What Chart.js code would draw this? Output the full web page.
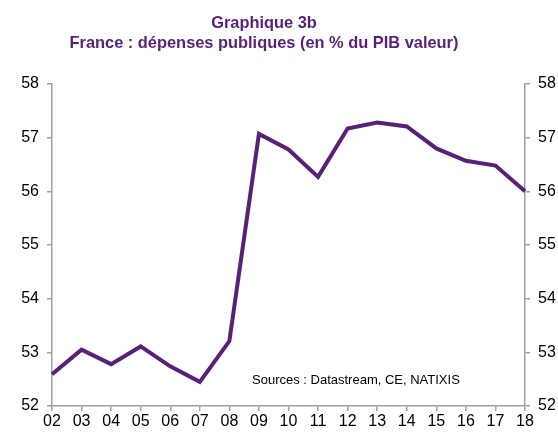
<!DOCTYPE html>
<html>
<head>
<meta charset="utf-8">
<script src="https://cdn.jsdelivr.net/npm/chart.js@4"></script>
<style>
  html, body { margin: 0; padding: 0; background: #fff; overflow: hidden; }
  #wrap { width: 575px; height: 432px; }
</style>
</head>
<body>
<div id="wrap"><canvas id="chart"></canvas></div>
<script>
const years = ['02', '03', '04', '05', '06', '07', '08', '09', '10', '11', '12', '13', '14', '15', '16', '17', '18'];
const depenses = [52.59, 53.05, 52.78, 53.11, 52.74, 52.45, 53.21, 57.07, 56.78, 56.27, 57.17, 57.28, 57.21, 56.80, 56.57, 56.48, 56.00];
const yTicks = [52, 53, 54, 55, 56, 57, 58];
const titleLines = ['Graphique 3b', 'France : dépenses publiques (en % du PIB valeur)'];
const sourceText = 'Sources : Datastream, CE, NATIXIS';

const purple = '#5a1f78';
const axisGray = '#a0a0a0';
const fontFamily = '"Liberation Sans", Arial, sans-serif';

// titre et source dessinés à la main pour coller à la mise en page d'origine
const annotations = {
    id: 'annotations',
    afterDraw(chart) {
        const ctx = chart.ctx;
        ctx.save();
        ctx.textBaseline = 'middle';
        ctx.textAlign = 'center';
        ctx.fillStyle = purple;
        ctx.font = 'bold 16.4px ' + fontFamily;
        ctx.fillText(titleLines[0], 264, 23);
        ctx.fillText(titleLines[1], 264, 43);
        ctx.textAlign = 'left';
        ctx.fillStyle = '#000';
        ctx.font = '13px ' + fontFamily;
        ctx.fillText(sourceText, 252, 380);
        ctx.restore();
    }
};

const tickFont = { family: fontFamily, size: 16 };

function yAxis(position) {
    return {
        type: 'linear',
        position: position,
        min: 52,
        max: 58,
        afterBuildTicks: function(axis) { axis.ticks = yTicks.map(function(v) { return { value: v }; }); },
        afterFit: function(axis) { axis.width = position === 'left' ? 52 : 50; },
        border: { color: axisGray, width: 1.5 },
        grid: { drawOnChartArea: false, color: axisGray, tickLength: 5, lineWidth: 1.5 },
        ticks: { color: '#000', font: tickFont, padding: 8 },
    };
}

new Chart(document.getElementById('chart'), {
    type: 'line',
    data: {
        labels: years,
        datasets: [{
            data: depenses,
            borderColor: purple,
            borderWidth: 4,
            pointRadius: 0,
            tension: 0,
            yAxisID: 'y',
        }],
    },
    options: {
        responsive: true,
        maintainAspectRatio: false,
        animation: false,
        layout: { padding: { top: 84, bottom: 0, left: 0, right: 0 } },
        plugins: {
            legend: { display: false },
            tooltip: { enabled: false },
            title: { display: false },
        },
        scales: {
            x: {
                offset: false,
                afterFit: function(axis) { axis.height = 26; },
                border: { color: axisGray, width: 1.5 },
                grid: { drawOnChartArea: false, color: axisGray, tickLength: 5, lineWidth: 1.5 },
                ticks: { color: '#000', font: tickFont, padding: 1, maxRotation: 0, autoSkip: false },
            },
            y: yAxis('left'),
            y2: yAxis('right'),
        },
    },
    plugins: [annotations],
});
</script>
</body>
</html>
